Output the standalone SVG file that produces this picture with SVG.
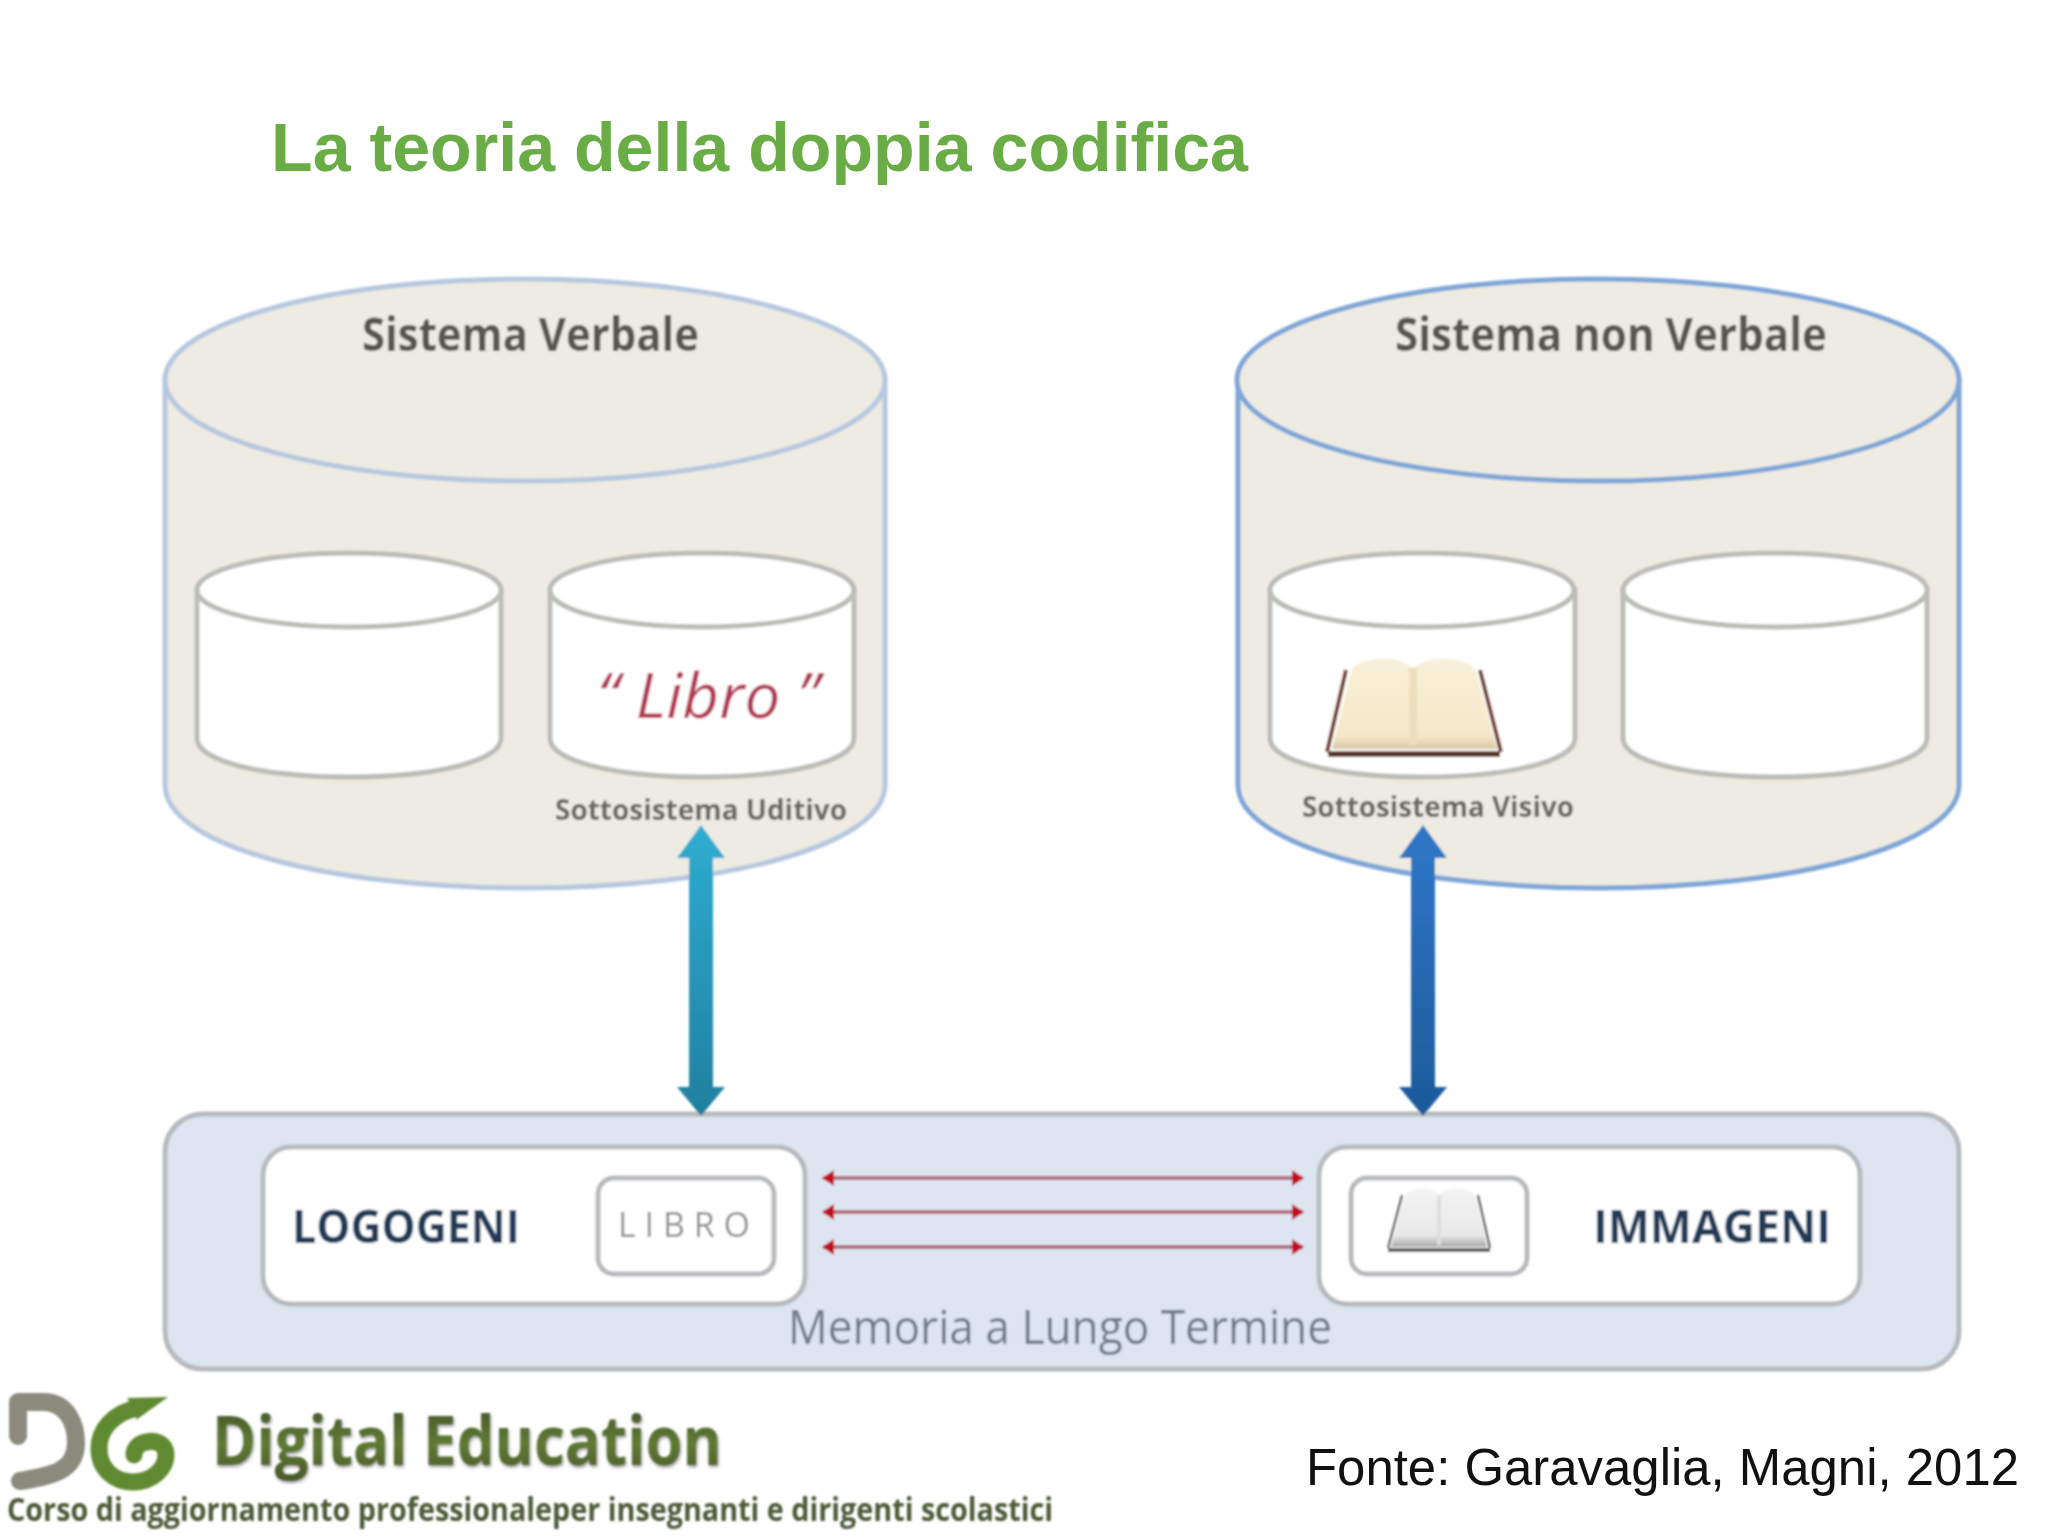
<svg xmlns="http://www.w3.org/2000/svg" width="2048" height="1536" viewBox="0 0 2048 1536">
<defs>
<style>
.big{fill:#eeebe2;stroke-width:5}
.bl{stroke:#b6c8e0}.br{stroke:#7fa6d8}
.small{fill:#fff;stroke:#bcbcb8;stroke-width:5}
.cal{font-family:"Open Sans",Lato,sans-serif}
.box{fill:#fff;stroke:#b7babd;stroke-width:5}
.red{stroke:#b56a7c;stroke-width:4;fill:none;marker-start:url(#rs);marker-end:url(#re)}
</style>
<marker id="re" markerUnits="userSpaceOnUse" markerWidth="12" markerHeight="16" refX="11" refY="8" orient="auto"><path d="M0 0L12 8L0 16Z" fill="#c00d22"/></marker>
<marker id="rs" markerUnits="userSpaceOnUse" markerWidth="12" markerHeight="16" refX="1" refY="8" orient="auto"><path d="M12 0L0 8L12 16Z" fill="#c00d22"/></marker>
<linearGradient id="ga" x1="0" y1="0" x2="0" y2="1"><stop offset="0" stop-color="#2fadd3"/><stop offset="1" stop-color="#1f7f9f"/></linearGradient>
<linearGradient id="gb" x1="0" y1="0" x2="0" y2="1"><stop offset="0" stop-color="#2f78c8"/><stop offset="1" stop-color="#1d5a9a"/></linearGradient>
<linearGradient id="gt" x1="0" y1="0" x2="0" y2="1"><stop offset="0" stop-color="#3c4a28"/><stop offset=".55" stop-color="#5f7a32"/><stop offset="1" stop-color="#46562a"/></linearGradient>
<linearGradient id="page" x1="0" y1="0" x2="0" y2="1"><stop offset="0" stop-color="#f8f0d8"/><stop offset=".85" stop-color="#f5e8c8"/><stop offset="1" stop-color="#d8c7a5"/></linearGradient>
<linearGradient id="pageg" x1="0" y1="0" x2="0" y2="1"><stop offset="0" stop-color="#f4f4f4"/><stop offset=".8" stop-color="#e8e8e8"/><stop offset="1" stop-color="#a8a8a8"/></linearGradient>
<filter id="b" x="-5%" y="-5%" width="110%" height="110%"><feGaussianBlur stdDeviation="0.9"/></filter>
<filter id="sh" x="-5%" y="-20%" width="110%" height="140%"><feDropShadow dx="1" dy="2" stdDeviation="1.5" flood-color="#777" flood-opacity=".7"/></filter>
</defs>
<rect width="2048" height="1536" fill="#fff"/>
<text id="title" x="271" y="171" font-family="'Liberation Sans',Arial,sans-serif" font-weight="700" font-size="69" fill="#6aad46" textLength="977" lengthAdjust="spacingAndGlyphs">La teoria della doppia codifica</text>

<g filter="url(#b)">
<g id="sistema-verbale">
<path class="big bl" d="M165 379V785C165 845 325 888 525 888S885 845 885 785V379Z"/>
<ellipse class="big bl" cx="525" cy="380" rx="360" ry="101"/>
<text class="cal" x="362" y="351" font-size="46" font-weight="700" fill="#55564f" textLength="337" lengthAdjust="spacingAndGlyphs">Sistema Verbale</text>
</g>
<g id="sistema-non-verbale">
<path class="big br" d="M1238 379V785C1238 845 1400 888 1598 888S1959 845 1959 785V379Z"/>
<ellipse class="big br" cx="1598" cy="380" rx="361" ry="101"/>
<text class="cal" x="1395" y="351" font-size="46" font-weight="700" fill="#55564f" textLength="432" lengthAdjust="spacingAndGlyphs">Sistema non Verbale</text>
</g>
<g id="uditivo-1">
<path class="small" d="M197 590V738C197 762 265 777 349 777S501 762 501 738V590Z"/>
<ellipse class="small" cx="349" cy="590" rx="152" ry="37"/>
</g>
<g id="uditivo-2">
<path class="small" d="M550 590V738C550 762 618 777 702 777S854 762 854 738V590Z"/>
<ellipse class="small" cx="702" cy="590" rx="152" ry="37"/>
<text class="cal" x="597" y="718" font-style="italic" font-size="62" fill="#b33a55" textLength="222" lengthAdjust="spacingAndGlyphs">“ Libro ”</text>
<text class="cal" x="555" y="820" font-size="29" font-weight="700" fill="#66675f" textLength="292" lengthAdjust="spacingAndGlyphs">Sottosistema  Uditivo</text>
</g>
<g id="visivo-1">
<path class="small" d="M1270 590V738C1270 762 1338 777 1422 777S1575 762 1575 738V590Z"/>
<ellipse class="small" cx="1422" cy="590" rx="152" ry="37"/>
<g id="book-large">
<path d="M1346 670L1327 752M1480 670L1501 752" fill="none" stroke="#6d3a26" stroke-width="4"/>
<path d="M1351 672C1356 656 1398 654 1413 668C1428 654 1470 656 1476 672L1497 749H1332Z" fill="url(#page)"/>
<path d="M1413 668V745" stroke="#eddfbe" stroke-width="8"/>
<path d="M1328 754H1500" stroke="#5a3a28" stroke-width="6"/>
</g>
<text class="cal" x="1302" y="817" font-size="29" font-weight="700" fill="#66675f" textLength="272" lengthAdjust="spacingAndGlyphs">Sottosistema  Visivo</text>
</g>
<g id="visivo-2">
<path class="small" d="M1623 590V738C1623 762 1691 777 1775 777S1927 762 1927 738V590Z"/>
<ellipse class="small" cx="1775" cy="590" rx="152" ry="37"/>
</g>
<g id="memoria">
<rect x="165" y="1114" width="1794" height="255" rx="38" fill="#dce5f0" stroke="#b7babd" stroke-width="5"/>
<text class="cal" x="788" y="1344" font-size="47" fill="#6e7a85" textLength="544" lengthAdjust="spacingAndGlyphs">Memoria a Lungo Termine</text>
</g>
<g id="logogeni">
<rect class="box" x="263" y="1147" width="542" height="157" rx="28"/>
<text class="cal" x="292" y="1243" font-size="46" font-weight="700" fill="#233a58" textLength="228" lengthAdjust="spacingAndGlyphs">LOGOGENI</text>
<rect class="box" x="598" y="1178" width="176" height="96" rx="16"/>
<text class="cal" x="618" y="1237" font-size="34" fill="#8a8d90" textLength="132">LIBRO</text>
</g>
<g id="immageni">
<rect class="box" x="1319" y="1147" width="541" height="157" rx="28"/>
<rect class="box" x="1351" y="1178" width="176" height="96" rx="16"/>
<g id="book-small">
<path d="M1402 1195L1388 1248M1478 1195L1490 1248" fill="none" stroke="#555" stroke-width="2.5"/>
<path d="M1404 1197C1410 1186 1432 1186 1439 1195C1446 1186 1470 1186 1476 1197L1487 1247H1391Z" fill="url(#pageg)"/>
<path d="M1439 1195V1245" stroke="#dedede" stroke-width="4"/>
<path d="M1388 1250H1490" stroke="#555" stroke-width="4"/>
</g>
<text class="cal" x="1593" y="1243" font-size="46" font-weight="700" fill="#233a58" textLength="238" lengthAdjust="spacingAndGlyphs">IMMAGENI</text>
</g>
<g id="connectors">
<path d="M701 825L725 858H713V1087H725L701 1116L677 1087H689V858H677Z" fill="url(#ga)"/>
<path d="M1423 825L1447 858H1435V1087H1447L1423 1116L1399 1087H1411V858H1399Z" fill="url(#gb)"/>
<path class="red" d="M823 1178H1303"/>
<path class="red" d="M823 1212H1303"/>
<path class="red" d="M823 1247H1303"/>
</g>
<g id="logo">
<path d="M18 1436V1402H43C68 1402 76 1425 76 1443C76 1472 50 1476 20 1481" fill="none" stroke="#8b8a7d" stroke-width="18" stroke-linecap="round" stroke-linejoin="round"/>
<path d="M137 1408C113 1413 99 1430 99 1448C99 1470 115 1482 133 1482C153 1482 166 1468 166 1455C166 1443 155 1440 147 1442C139 1443 134 1448 134 1455" fill="none" stroke="#5f8a30" stroke-width="17" stroke-linecap="round"/>
<path d="M168 1397L127 1398L137 1412L136 1420Z" fill="#5f8a30"/>
<text class="cal" x="212" y="1465" font-size="68" font-weight="700" fill="url(#gt)" filter="url(#sh)" textLength="510" lengthAdjust="spacingAndGlyphs">Digital Education</text>
<text class="cal" x="7" y="1521" font-size="33" font-weight="700" fill="#4d5a38" textLength="1046" lengthAdjust="spacingAndGlyphs">Corso di aggiornamento professionaleper insegnanti e dirigenti scolastici</text>
</g>
</g>
<text id="fonte" x="1306" y="1485" font-family="'Liberation Sans',Arial,sans-serif" font-size="52" fill="#111" textLength="713" lengthAdjust="spacingAndGlyphs">Fonte: Garavaglia, Magni, 2012</text>
</svg>
